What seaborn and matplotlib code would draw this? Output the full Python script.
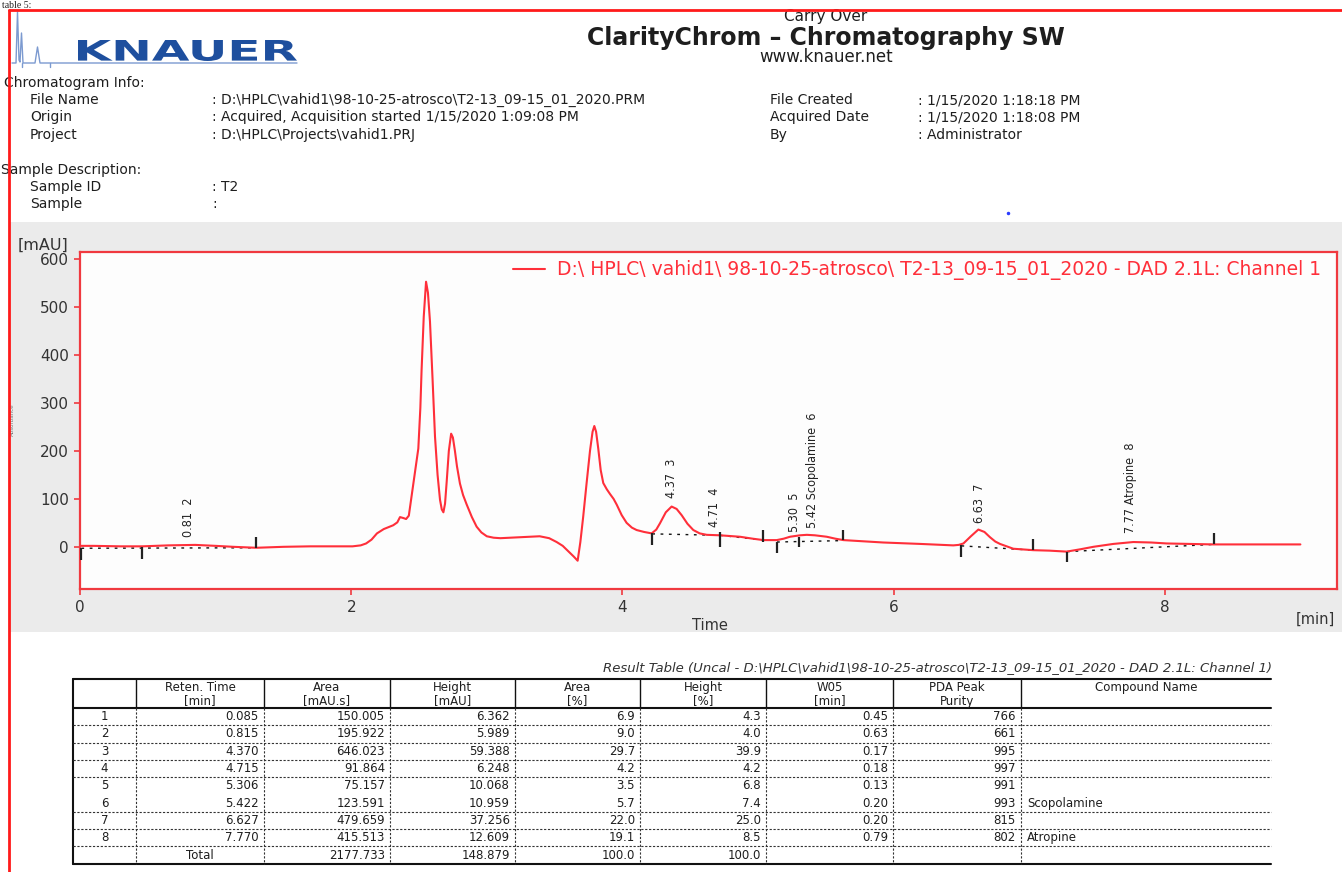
"""
ClarityChrom report page: chromatogram of sample T2 plus result table
"""

import matplotlib
matplotlib.use('Agg')
import matplotlib.pyplot as plt
import seaborn as sns
import pandas as pd
from matplotlib import font_manager
from matplotlib.font_manager import FontProperties
from matplotlib.textpath import TextPath
from matplotlib.patches import PathPatch, Rectangle
from matplotlib.transforms import Affine2D

# chromatogram trace
time_min = [0.01, 0.10, 0.30, 0.46, 0.65, 0.85, 1.00, 1.13, 1.30, 1.50, 1.70, 1.90,
            2.01, 2.07, 2.11, 2.15, 2.19, 2.24, 2.31, 2.34, 2.36, 2.385, 2.405, 2.425,
            2.44, 2.458, 2.475, 2.495, 2.51, 2.519, 2.535, 2.552, 2.566, 2.581, 2.60,
            2.618, 2.637, 2.655, 2.668, 2.68, 2.692, 2.704, 2.72, 2.737, 2.75, 2.765,
            2.78, 2.802, 2.825, 2.852, 2.89, 2.925, 2.96, 3.00, 3.05, 3.10, 3.25, 3.39,
            3.46, 3.515, 3.56, 3.60, 3.64, 3.67, 3.69, 3.711, 3.735, 3.761, 3.78, 3.793,
            3.806, 3.822, 3.84, 3.859, 3.885, 3.909, 3.935, 3.958, 3.995, 4.031, 4.07,
            4.105, 4.16, 4.216, 4.25, 4.277, 4.32, 4.363, 4.40, 4.437, 4.48, 4.523, 4.57,
            4.622, 4.72, 4.867, 4.96, 5.04, 5.138, 5.19, 5.236, 5.31, 5.36, 5.42, 5.507,
            5.57, 5.63, 5.924, 6.20, 6.44, 6.48, 6.515, 6.57, 6.625, 6.67, 6.711, 6.75,
            6.785, 6.883, 7.03, 7.15, 7.276, 7.38, 7.473, 7.62, 7.768, 7.90, 8.014, 8.358,
            8.70, 9.00]
signal_mau = [2, 2, 1, 1, 3, 4, 2, 0, -2, 0, 1, 1,
              1, 3, 7, 15, 28, 37, 45, 51, 62, 60, 58, 65,
              95, 132, 165, 205, 290, 368, 480, 553, 530, 470, 350,
              230, 150, 98, 78, 72, 90, 135, 200, 236, 228, 200,
              168, 132, 108, 88, 62, 42, 30, 22, 19, 18, 20, 22,
              18, 10, 2, -9, -20, -29, 10, 63, 130, 200, 240, 252,
              240, 205, 160, 133, 120, 110, 100, 88, 66, 50, 40,
              35, 31, 28, 36, 49, 72, 84, 79, 66, 48, 35, 28,
              25, 24, 21, 17, 14, 14, 17, 21, 24, 25, 24, 21,
              17, 14, 9, 6, 3, 4, 7, 22, 36, 31, 20, 11,
              6, -4, -7, -8, -10, -5, 0, 6, 10, 9, 7, 5,
              5, 5]

# integration baselines
base_t0 = [0.01, 4.22, 4.72, 5.14, 6.50, 7.28]
base_y0 = [-3, 27, 24, 10, 2, -10]
base_t1 = [1.30, 4.72, 5.04, 5.63, 7.03, 8.36]
base_y1 = [-2, 24, 14, 13, -7, 5]

# peak start / end markers
mark_t = [0.01, 0.46, 1.30, 4.22, 4.72, 5.04, 5.14, 5.30, 5.63, 6.50, 7.03, 7.28, 8.36]
mark_lo = [-28, -25, -3, 3, 0, 10, -13, 0, 14, -21, -7, -32, 6]
mark_hi = [-3, 0, 20, 28, 31, 35, 10, 21, 35, 4, 16, -10, 28]

# peak labels
lab_t = [0.80, 4.36, 4.68, 5.27, 5.40, 6.63, 7.75]
lab_y = [20, 101, 41, 31, 39, 49, 28]
lab_txt = ['0.81  2', '4.37  3', '4.71  4', '5.30  5', '5.42 Scopolamine  6',
           '6.63  7', '7.77 Atropine  8']

# result table
peak_no = ['1', '2', '3', '4', '5', '6', '7', '8']
ret_time = [0.085, 0.815, 4.370, 4.715, 5.306, 5.422, 6.627, 7.770]
area = [150.005, 195.922, 646.023, 91.864, 75.157, 123.591, 479.659, 415.513]
height = [6.362, 5.989, 59.388, 6.248, 10.068, 10.959, 37.256, 12.609]
area_pct = [6.9, 9.0, 29.7, 4.2, 3.5, 5.7, 22.0, 19.1]
height_pct = [4.3, 4.0, 39.9, 4.2, 6.8, 7.4, 25.0, 8.5]
w05 = [0.45, 0.63, 0.17, 0.18, 0.13, 0.20, 0.20, 0.79]
purity = [766, 661, 995, 997, 991, 993, 815, 802]
compound = ['', '', '', '', '', 'Scopolamine', '', 'Atropine']
totals = [2177.733, 148.879, 100.0, 100.0]
head_cols = ['Reten. Time\n[min]', 'Area\n[mAU.s]', 'Height\n[mAU]', 'Area\n[%]',
             'Height\n[%]', 'W05\n[min]', 'PDA Peak\nPurity', 'Compound Name']

# header info
info_left = [('File Name', ': D:\\HPLC\\vahid1\\98-10-25-atrosco\\T2-13_09-15_01_2020.PRM'),
             ('Origin', ': Acquired, Acquisition started 1/15/2020 1:09:08 PM'),
             ('Project', ': D:\\HPLC\\Projects\\vahid1.PRJ')]
info_right = [('File Created', ': 1/15/2020 1:18:18 PM'),
              ('Acquired Date', ': 1/15/2020 1:18:08 PM'),
              ('By', ': Administrator')]
sample_info = [('Sample ID', ': T2'), ('Sample', ':')]
legend_txt = 'D:\\ HPLC\\ vahid1\\ 98-10-25-atrosco\\ T2-13_09-15_01_2020 - DAD 2.1L: Channel 1'

RED = '#f0393f'
INK = '#1e1e1e'

sns.set_style('white')
plt.rcParams['font.family'] = ['DejaVu Sans']

_names = {f.name for f in font_manager.fontManager.ttflist}
if 'Liberation Sans Narrow' in _names:
    narrow = FontProperties(family='Liberation Sans Narrow', size=10)
else:
    narrow = FontProperties(family='DejaVu Sans', stretch='condensed', size=9)

W, H = 1342, 872
fig = plt.figure(figsize=(W / 100, H / 100), dpi=100)

# page layer in pixel coordinates
page = fig.add_axes([0, 0, 1, 1], zorder=0)
page.set_xlim(0, W)
page.set_ylim(H, 0)
page.axis('off')

page.text(2, 0.5, 'table 5:', family='Liberation Serif', fontsize=7, va='top', color='#222')
page.plot([9, 9], [10, H], color='#ff1a1a', lw=2, zorder=5)
page.plot([9, W], [10, 10], color='#ff1a1a', lw=2, zorder=5)

# logo
logo_x = [12, 16, 17.5, 19, 20, 21.5, 23, 35, 37.5, 40, 297]
logo_y = [63, 63, 12, 60, 62, 33, 63, 63, 47, 63, 63]
page.plot(logo_x, logo_y, color='#7c9ad0', lw=1)
page.plot([22, 22], [63, 67], color='#7c9ad0', lw=1)
page.plot([50, 50], [63, 67], color='#7c9ad0', lw=1)
tp = TextPath((0, 0), 'KNAUER', size=10, prop=FontProperties(family='DejaVu Sans', weight='bold'))
bb = tp.get_extents()
tr = Affine2D().translate(-bb.x0, -bb.y0).scale(219 / bb.width, -21 / bb.height).translate(78, 61)
page.add_patch(PathPatch(tr.transform_path(tp), color='#1e4f9e', lw=0))

page.text(826, 16, 'Carry Over', ha='center', va='center', fontsize=11, color=INK)
page.text(826, 38, 'ClarityChrom – Chromatography SW', ha='center', va='center',
          fontsize=17, weight='bold', color=INK)
page.text(826, 57, 'www.knauer.net', ha='center', va='center', fontsize=12, color=INK)

fs_info = 10
page.text(4, 83, 'Chromatogram Info:', va='center', fontsize=fs_info, color=INK)
for i, (k, v) in enumerate(info_left):
    y = 100 + i * 17.5
    page.text(30, y, k, va='center', fontsize=fs_info, color=INK)
    page.text(212, y, v, va='center', fontsize=fs_info, color=INK)
for i, (k, v) in enumerate(info_right):
    y = 100 + i * 17.5
    page.text(770, y, k, va='center', fontsize=fs_info, color=INK)
    page.text(918, y, v, va='center', fontsize=fs_info, color=INK)
page.text(1, 170, 'Sample Description:', va='center', fontsize=fs_info, color=INK)
for i, (k, v) in enumerate(sample_info):
    y = 187 + i * 17
    page.text(30, y, k, va='center', fontsize=fs_info, color=INK)
    page.text(212, y, v, va='center', fontsize=fs_info, color=INK)
page.plot([1008], [213], marker='.', ms=3, color='#2a3cff')

# chart panel
page.add_patch(Rectangle((10, 222), W - 10, 410, color='#ebebeb', lw=0))
page.text(18, 245, '[mAU]', va='center', fontsize=11.5, color='#333')
page.text(12, 420, 'Absorbance', rotation=90, ha='center', va='center', fontsize=4, color='#777')
page.text(710, 625, 'Time', ha='center', va='center', fontsize=10.5, color='#333')
page.text(1315, 619, '[min]', ha='center', va='center', fontsize=10.5, color='#333')

ax = fig.add_axes([80 / W, 1 - 589 / H, 1257 / W, 337 / H], zorder=2)
ax.set_facecolor('#fdfdfd')
df = pd.DataFrame({'Time': time_min, 'Signal': signal_mau})
sns.lineplot(data=df, x='Time', y='Signal', ax=ax, color='#ff2f3a', lw=1.5,
             label=legend_txt, zorder=3)
for t0, y0, t1, y1 in zip(base_t0, base_y0, base_t1, base_y1):
    ax.plot([t0, t1], [y0, y1], color='#111', lw=1, ls=(0, (2, 4)), zorder=2)
ax.vlines(mark_t, mark_lo, mark_hi, color='#222', lw=1.6, zorder=4)
for t, y, s in zip(lab_t, lab_y, lab_txt):
    ax.text(t, y, s, rotation=90, ha='center', va='bottom', fontproperties=narrow, color='#222')

ax.set_xlim(0, 9.27)
ax.set_ylim(-88, 615)
ax.set_xticks([0, 2, 4, 6, 8])
ax.set_yticks([0, 100, 200, 300, 400, 500, 600])
ax.set_xlabel('')
ax.set_ylabel('')
ax.tick_params(axis='both', direction='out', length=4, width=1.2, color=RED,
               labelsize=11, labelcolor='#333', pad=4, bottom=True, left=True)
for sp in ax.spines.values():
    sp.set_color(RED)
    sp.set_linewidth(1.6)
leg = ax.legend(loc='upper right', bbox_to_anchor=(0.987, 0.975), frameon=False,
                borderaxespad=0, borderpad=0, handlelength=1.7, handletextpad=0.6,
                fontsize=13.5, labelcolor='linecolor')

# result table
page.text(1272, 668, 'Result Table (Uncal - D:\\HPLC\\vahid1\\98-10-25-atrosco\\'
          'T2-13_09-15_01_2020 - DAD 2.1L: Channel 1)', ha='right', va='center',
          fontsize=9.5, style='italic', color='#333')
col_x = [73, 136, 264, 390, 515, 640, 766, 893, 1021, 1271]
top, hbot, rh = 679, 708, 17.3
bot = hbot + 9 * rh
fs_tab = 8.5
page.plot([col_x[0], col_x[-1]], [top, top], color='#111', lw=1.5)
page.plot([col_x[0], col_x[-1]], [hbot, hbot], color='#111', lw=1.5)
page.plot([col_x[0], col_x[-1]], [bot, bot], color='#111', lw=1.5)
page.plot([col_x[0], col_x[0]], [top, bot], color='#111', lw=1.5)
for x in col_x[1:-1]:
    page.plot([x, x], [top, hbot], color='#111', lw=1)
    page.plot([x, x], [hbot, bot], color='#333', lw=0.8, ls=(0, (2, 1.5)))
for k in range(1, 9):
    if k == 5:
        continue
    y = hbot + k * rh
    page.plot([col_x[0], col_x[-1]], [y, y], color='#333', lw=0.8, ls=(0, (2, 1.5)))
for j, name in enumerate(head_cols):
    cx = (col_x[j + 1] + col_x[j + 2]) / 2
    page.text(cx, 681, name, ha='center', va='top', fontsize=fs_tab, color=INK, linespacing=1.05)

rows = zip(peak_no, ret_time, area, height, area_pct, height_pct, w05, purity, compound)
for i, (n, rt, a, h, ap, hp, w, p, c) in enumerate(rows):
    y = hbot + (i + 0.5) * rh
    page.text((col_x[0] + col_x[1]) / 2, y, n, ha='center', va='center', fontsize=fs_tab, color=INK)
    cells = [f'{rt:.3f}', f'{a:.3f}', f'{h:.3f}', f'{ap:.1f}', f'{hp:.1f}', f'{w:.2f}', f'{p}']
    for j, s in enumerate(cells):
        page.text(col_x[j + 2] - 5, y, s, ha='right', va='center', fontsize=fs_tab, color=INK)
    if c:
        page.text(col_x[8] + 6, y, c, ha='left', va='center', fontsize=fs_tab, color=INK)
y = hbot + 8.5 * rh
page.text((col_x[1] + col_x[2]) / 2, y, 'Total', ha='center', va='center', fontsize=fs_tab, color=INK)
tot_txt = [f'{totals[0]:.3f}', f'{totals[1]:.3f}', f'{totals[2]:.1f}', f'{totals[3]:.1f}']
for j, s in enumerate(tot_txt):
    page.text(col_x[j + 3] - 5, y, s, ha='right', va='center', fontsize=fs_tab, color=INK)

fig.savefig('out.png', dpi=100, facecolor='white')
